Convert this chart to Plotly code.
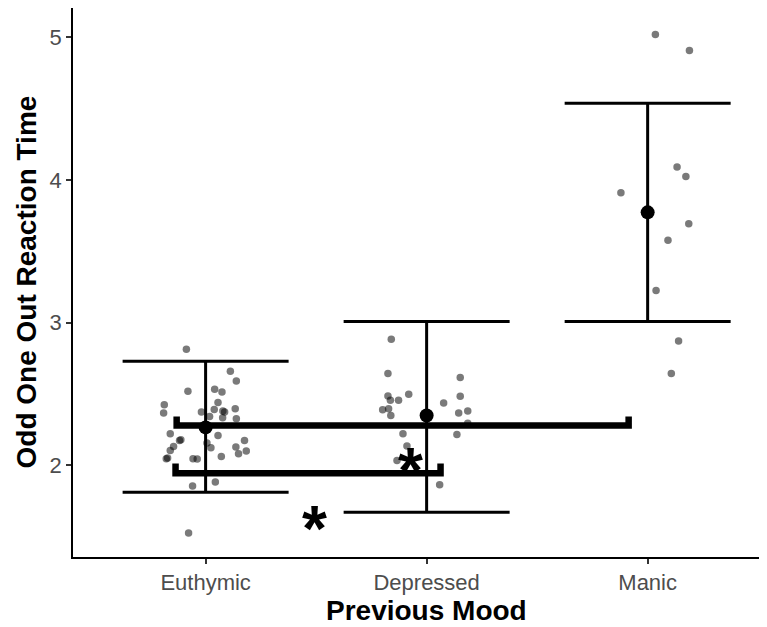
import plotly.graph_objects as go

# ---- data ----
categories = ["Euthymic", "Depressed", "Manic"]

euthymic_offset = [-0.087, 0.112, 0.139, -0.080, 0.041, 0.074, -0.187, 0.056, -0.190, -0.019,
                   0.039, 0.078, 0.086, 0.134, 0.077, 0.018, 0.139, -0.160, -0.118, -0.112,
                   0.056, -0.145, -0.160, -0.178, -0.172, 0.006, 0.024, 0.176, 0.137, 0.149,
                   0.184, 0.071, -0.057, -0.038, -0.059, 0.044, -0.077]
euthymic_rt = [2.813, 2.659, 2.591, 2.519, 2.533, 2.514, 2.425, 2.441, 2.367, 2.374,
               2.392, 2.381, 2.374, 2.397, 2.334, 2.343, 2.327, 2.222, 2.175, 2.180,
               2.210, 2.133, 2.105, 2.047, 2.052, 2.156, 2.124, 2.175, 2.128, 2.082,
               2.100, 2.063, 2.047, 2.044, 1.855, 1.883, 1.526]

depressed_offset = [-0.160, -0.175, 0.152, -0.175, -0.164, -0.127, -0.081, 0.152, 0.077, -0.199,
                    -0.172, -0.162, 0.145, 0.186, 0.186, -0.107, 0.137, -0.089, -0.134, 0.059]
depressed_rt = [2.883, 2.643, 2.615, 2.486, 2.456, 2.456, 2.498, 2.484, 2.437, 2.390,
                2.397, 2.350, 2.367, 2.381, 2.296, 2.222, 2.217, 2.135, 2.035, 1.865]

manic_offset = [0.035, 0.189, 0.133, 0.173, -0.121, 0.186, 0.092, 0.038, 0.140, 0.107]
manic_rt = [5.020, 4.908, 4.090, 4.025, 3.911, 3.694, 3.577, 3.226, 2.871, 2.643]

group_means = [2.266, 2.350, 3.773]
group_upper = [2.729, 3.009, 4.537]
group_lower = [1.811, 1.671, 3.009]

# significance brackets: (x start, x end, bar level, tick top)
bracket_upper = [0.869, 2.914, 2.280, 2.343]
bracket_lower = [0.864, 2.063, 1.944, 2.014]
star_x = [1.928, 1.493]
star_y = [2.042, 1.636]

FONT = "Liberation Sans, Arial, sans-serif"

fig = go.Figure()

# jittered raw points
for i, (offs, vals) in enumerate([(euthymic_offset, euthymic_rt),
                                   (depressed_offset, depressed_rt),
                                   (manic_offset, manic_rt)]):
    fig.add_trace(go.Scatter(
        x=[i + 1 + o for o in offs], y=vals, mode="markers",
        marker=dict(size=7.5, color="rgba(0,0,0,0.52)", line=dict(width=0)),
        showlegend=False, hoverinfo="y"))

# means with error bars
fig.add_trace(go.Scatter(
    x=[1, 2, 3], y=group_means, mode="markers",
    marker=dict(size=14, color="black"),
    error_y=dict(type="data", symmetric=False,
                 array=[u - m for u, m in zip(group_upper, group_means)],
                 arrayminus=[m - l for m, l in zip(group_means, group_lower)],
                 width=83, thickness=3, color="black"),
    showlegend=False))

# brackets
for b in (bracket_upper, bracket_lower):
    x0, x1, lvl, top = b
    fig.add_trace(go.Scatter(
        x=[x0, x0, x1, x1], y=[top, lvl, lvl, top], mode="lines",
        line=dict(color="black", width=6.5), showlegend=False, hoverinfo="skip"))

for sx, sy in zip(star_x, star_y):
    fig.add_annotation(x=sx, y=sy, xref="x", yref="y", text="<b>*</b>",
                       showarrow=False, font=dict(size=64, color="black", family=FONT),
                       xanchor="center", yanchor="middle", yshift=-12)

# axis titles
fig.add_annotation(x=2.0, y=0, xref="x", yref="paper", text="<b>Previous Mood</b>",
                   showarrow=False, font=dict(size=28, color="black", family=FONT),
                   xanchor="center", yanchor="middle", yshift=-53)
fig.add_annotation(x=0, y=0.5, xref="paper", yref="paper", text="<b>Odd One Out Reaction Time</b>",
                   showarrow=False, font=dict(size=28, color="black", family=FONT),
                   textangle=-90, xanchor="center", yanchor="middle", xshift=-47)

# page has an 8px body margin, so the figure is 8px smaller than the window
fig.update_layout(
    width=759, height=619,
    margin=dict(l=65, r=0, t=0, b=70),
    paper_bgcolor="white", plot_bgcolor="white",
    font=dict(family=FONT),
    xaxis=dict(range=[0.4, 3.54], tickvals=[1, 2, 3], ticktext=categories,
               showline=True, linecolor="black", linewidth=1.6,
               ticks="outside", ticklen=5, tickwidth=1.5, tickcolor="#333333",
               tickfont=dict(size=22, color="#4D4D4D", family=FONT),
               showgrid=False, zeroline=False),
    yaxis=dict(range=[1.358, 5.205], tickvals=[2, 3, 4, 5],
               showline=True, linecolor="black", linewidth=1.6,
               ticks="outside", ticklen=5, tickwidth=1.5, tickcolor="#333333",
               tickfont=dict(size=22, color="#4D4D4D", family=FONT),
               showgrid=False, zeroline=False),
)

fig.write_html("out.html")
